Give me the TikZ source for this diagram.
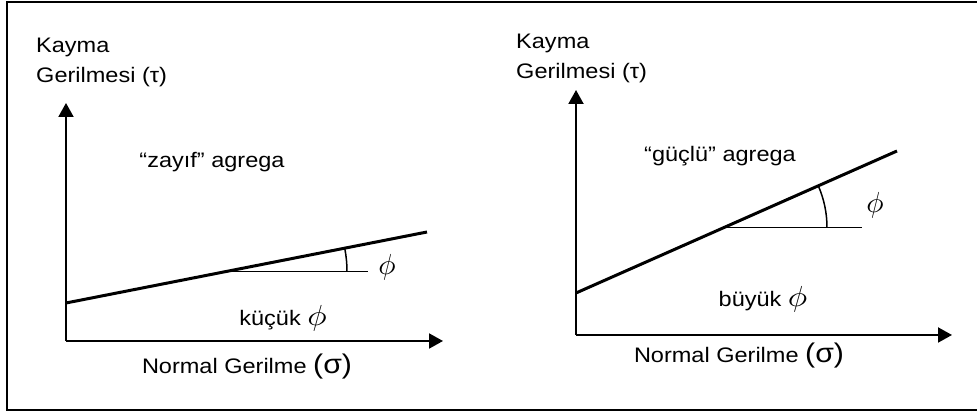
\documentclass[tikz,border=0pt]{standalone}
\usepackage{graphicx}
\usepackage{fontspec}
\setmainfont{Liberation Sans}
\usetikzlibrary{arrows.meta}
\tikzset{
  lbl/.style={inner sep=0pt, font=\fontsize{21}{24}\selectfont, xscale=1.12},
  axis/.style={line width=2pt, -{Triangle[length=14pt,width=15pt]}},
  envelope/.style={line width=3pt},
  refline/.style={line width=1.5pt},
  frame/.style={line width=2pt},
  phil/.style={inner sep=0pt},
}
\newcommand{\bigsig}{{\fontsize{27}{28}\selectfont(σ)}}
\newcommand{\bigphi}{\scalebox{2.9}{\normalsize$\phi$}}
\begin{document}
\begin{tikzpicture}[x=1pt,y=1pt]
\useasboundingbox (0,0) rectangle (977,414);
\draw[frame] (990,412) -- (7,412) -- (7,4) -- (990,4);

% ---------- left chart ----------
\coordinate (O1) at (66,73);
\coordinate (T1) at (66,311);
\coordinate (X1) at (443,73);
\coordinate (A1) at (66,111);
\coordinate (B1) at (427,182);
\coordinate (P1) at (227,142.5);
\coordinate (H1) at (368,142.5);
\draw[axis] (O1) -- (T1);
\draw[axis] (O1) -- (X1);
\draw[envelope] (A1) -- (B1);
\draw[refline] (P1) -- (H1);
\draw[refline] (P1) ++(0:120pt) arc[start angle=0,end angle=11.1,radius=120pt];
\node[phil] (phiL) at (387,147) {\bigphi};
\node[lbl] (smallL) at (283,96) {küçük \bigphi};
\node[lbl] (weakL) at (212,252) {“zayıf” agrega};
\node[lbl, anchor=west] (kayL) at (36,367) {Kayma};
\node[lbl, anchor=west] (gerL) at (36,337) {Gerilmesi (τ)};
\node[lbl] (normL) at (247,47) {Normal Gerilme \bigsig};

% ---------- right chart ----------
\coordinate (O2) at (576,79);
\coordinate (T2) at (576,324);
\coordinate (X2) at (952,79);
\coordinate (A2) at (576,121);
\coordinate (B2) at (897,263);
\coordinate (P2) at (723,186.5);
\coordinate (H2) at (862,186.5);
\draw[axis] (O2) -- (T2);
\draw[axis] (O2) -- (X2);
\draw[envelope] (A2) -- (B2);
\draw[refline] (P2) -- (H2);
\draw[refline] (P2) ++(0:104pt) arc[start angle=0,end angle=23.9,radius=104pt];
\node[phil] (phiR) at (875,209) {\bigphi};
\node[lbl] (bigR) at (763,115) {büyük \bigphi};
\node[lbl] (strongR) at (720,258) {“güçlü” agrega};
\node[lbl, anchor=west] (kayR) at (516,371) {Kayma};
\node[lbl, anchor=west] (gerR) at (516,341) {Gerilmesi (τ)};
\node[lbl] (normR) at (739,58) {Normal Gerilme \bigsig};
\end{tikzpicture}
\end{document}
